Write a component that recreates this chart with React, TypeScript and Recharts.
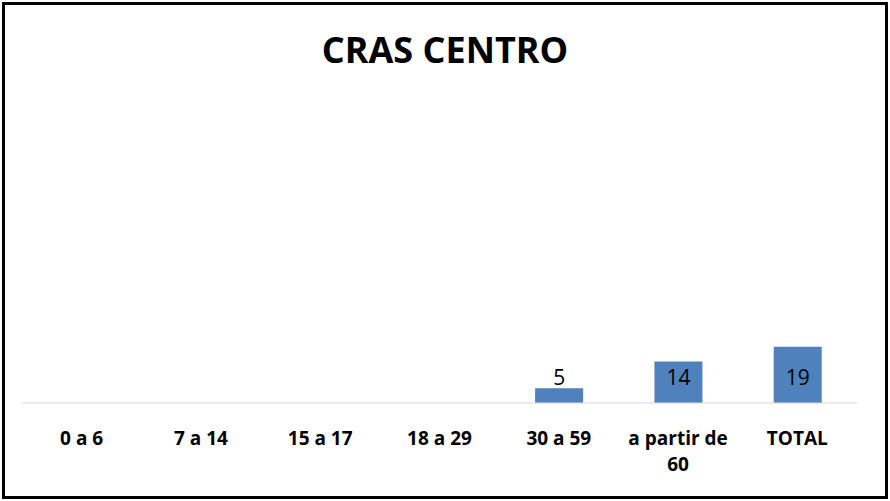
import React from 'react';
import { BarChart, Bar, XAxis, YAxis, LabelList } from 'recharts';

// Faixas etárias e quantidades
const categories = ['0 a 6', '7 a 14', '15 a 17', '18 a 29', '30 a 59', 'a partir de 60', 'TOTAL'];
const values: (number | null)[] = [null, null, null, null, 5, 14, 19];

const TITLE = 'CRAS CENTRO';
const BAR_COLOR = '#4f81bd';

const data = categories.map((name, i) => ({ name, value: values[i] }));

// quebra rótulos longos em duas linhas, como no Excel
const wrap = (s: string): string[] => {
  if (s.length <= 10) return [s];
  const idx = s.lastIndexOf(' ');
  return [s.slice(0, idx), s.slice(idx + 1)];
};

const Tick = (props: any) => {
  const { x, y, payload } = props;
  const lines = wrap(String(payload.value));
  return (
    <text
      x={x}
      y={y}
      textAnchor="middle"
      fontFamily="'Open Sans', sans-serif"
      fontWeight={700}
      fontSize={19}
      fill="#000"
    >
      {lines.map((l, i) => (
        <tspan key={i} x={x} dy={i === 0 ? 34 : 26}>
          {l}
        </tspan>
      ))}
    </text>
  );
};

const ValueLabel = (props: any) => {
  const { x, y, width, height, value } = props;
  if (value === null || value === undefined) return null;
  return (
    <text
      x={x + width / 2}
      y={y + height - 26}
      textAnchor="middle"
      dominantBaseline="central"
      fontFamily="'Open Sans', sans-serif"
      fontSize={21}
      fill="#000"
    >
      {value}
    </text>
  );
};

export default function App() {
  return (
    <div style={{ position: 'absolute', left: 0, top: 0, width: 890, height: 501, background: '#fff' }}>
      <div
        style={{
          position: 'absolute',
          left: 2,
          top: 2,
          width: 886,
          height: 497,
          border: '3px solid #000',
          boxSizing: 'border-box',
        }}
      />
      <div
        style={{
          position: 'absolute',
          left: 0,
          top: 25,
          width: 890,
          textAlign: 'center',
          fontFamily: "'Open Sans', sans-serif",
          fontWeight: 700,
          fontSize: 36,
          lineHeight: '50px',
          color: '#000',
        }}
      >
        {TITLE}
      </div>
      <div style={{ position: 'absolute', left: 0, top: 0 }}>
        <BarChart width={890} height={501} data={data} margin={{ top: 107, right: 33, left: 22, bottom: 0 }}>
          <XAxis
            dataKey="name"
            axisLine={{ stroke: '#d9d9d9', strokeWidth: 1 }}
            tickLine={false}
            tick={<Tick />}
            interval={0}
            height={98}
          />
          <YAxis hide domain={[0, 100]} />
          <Bar dataKey="value" fill={BAR_COLOR} barSize={48} isAnimationActive={false}>
            <LabelList dataKey="value" content={<ValueLabel />} />
          </Bar>
        </BarChart>
      </div>
    </div>
  );
}
